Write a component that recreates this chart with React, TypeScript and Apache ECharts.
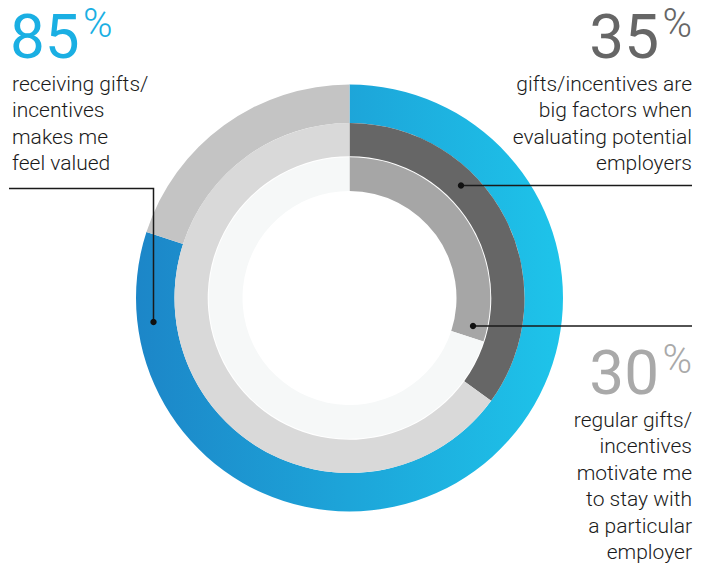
import React, { useEffect, useRef } from "react";
import * as echarts from "echarts";

// Ring shares read from the drawn arcs (start at 12 o'clock, clockwise)
const outerValues = [80, 20];
const middleValues = [35, 65];
const innerValues = [30, 70];

const bigNumbers = ["85", "35", "30"];
const captionLeft = ["receiving gifts/", "incentives", "makes me", "feel valued"];
const captionRightTop = ["gifts/incentives are", "big factors when", "evaluating potential", "employers"];
const captionRightBottom = ["regular gifts/", "incentives", "motivate me", "to stay with", "a particular", "employer"];

const FONT = "Roboto, 'Noto Sans', sans-serif";

export default function App() {
  const ref = useRef<HTMLDivElement>(null);

  useEffect(() => {
    if (!ref.current) return;
    const chart = echarts.init(ref.current, undefined, { renderer: "svg" });
    const cx = 349.5;
    const cy = 298;

    const blue = new echarts.graphic.LinearGradient(0, 0, 1, 0, [
      { offset: 0, color: "#1c86c8" },
      { offset: 1, color: "#1ec4ea" },
    ]);

    const ring = (values: number[], colors: any[], radius: number[]) => ({
      type: "pie",
      center: [cx, cy],
      radius,
      startAngle: 90,
      clockwise: true,
      silent: true,
      label: { show: false },
      labelLine: { show: false },
      emphasis: { disabled: true },
      itemStyle: { borderWidth: 0 },
      data: values.map((v, i) => ({ value: v, itemStyle: { color: colors[i] } })),
    });

    const textStyle = (lines: string[], x: number, y: number, align: string) => ({
      type: "text",
      x,
      y,
      style: {
        text: lines.join("\n"),
        font: `300 21px ${FONT}`,
        fill: "#1a1a1a",
        align,
        verticalAlign: "top",
        lineHeight: 26.5,
      },
    });

    const bigText = (t: string, x: number, y: number, size: number, weight: number, color: string, align: string) => ({
      type: "text",
      x,
      y,
      style: {
        text: t,
        font: `${weight} ${size}px ${FONT}`,
        fill: color,
        align,
        verticalAlign: "middle",
      },
    });

    const lineStyle = { stroke: "#1a1a1a", lineWidth: 1.5, fill: null };

    chart.setOption({
      animation: false,
      backgroundColor: "#ffffff",
      series: [
        ring(outerValues, [blue, "#c4c4c4"], [175, 213.5]),
        ring(middleValues, ["#666666", "#d9d9d9"], [141.8, 175]),
        ring(innerValues, ["#a6a6a6", "#f6f8f8"], [107, 140.8]),
      ],
      graphic: [
        bigText(bigNumbers[0], 10, 36, 62, 400, "#1aafe3", "left"),
        bigText("%", 83, 23, 40, 300, "#1aafe3", "left"),
        textStyle(captionLeft, 12, 70.3, "left"),

        bigText(bigNumbers[1], 659, 36, 62, 400, "#666666", "right"),
        bigText("%", 692, 23, 40, 300, "#666666", "right"),
        textStyle(captionRightTop, 692, 70.3, "right"),

        bigText(bigNumbers[2], 659, 372, 62, 400, "#a9a9a9", "right"),
        bigText("%", 692, 359.5, 40, 300, "#a9a9a9", "right"),
        textStyle(captionRightBottom, 692, 406.7, "right"),

        { type: "polyline", shape: { points: [[9, 188.5], [153.5, 188.5], [153.5, 322]] }, style: lineStyle, z: 10 },
        { type: "circle", shape: { cx: 153.5, cy: 322, r: 3.2 }, style: { fill: "#111" }, z: 10 },
        { type: "line", shape: { x1: 461, y1: 185.5, x2: 692, y2: 185.5 }, style: lineStyle, z: 10 },
        { type: "circle", shape: { cx: 461, cy: 185.5, r: 3.2 }, style: { fill: "#111" }, z: 10 },
        { type: "line", shape: { x1: 473, y1: 326, x2: 692, y2: 326 }, style: lineStyle, z: 10 },
        { type: "circle", shape: { cx: 473, cy: 326, r: 3.2 }, style: { fill: "#111" }, z: 10 },
      ],
    });

    return () => chart.dispose();
  }, []);

  return (
    <div
      ref={ref}
      style={{ position: "fixed", left: 0, top: 0, width: 712, height: 565 }}
    />
  );
}
